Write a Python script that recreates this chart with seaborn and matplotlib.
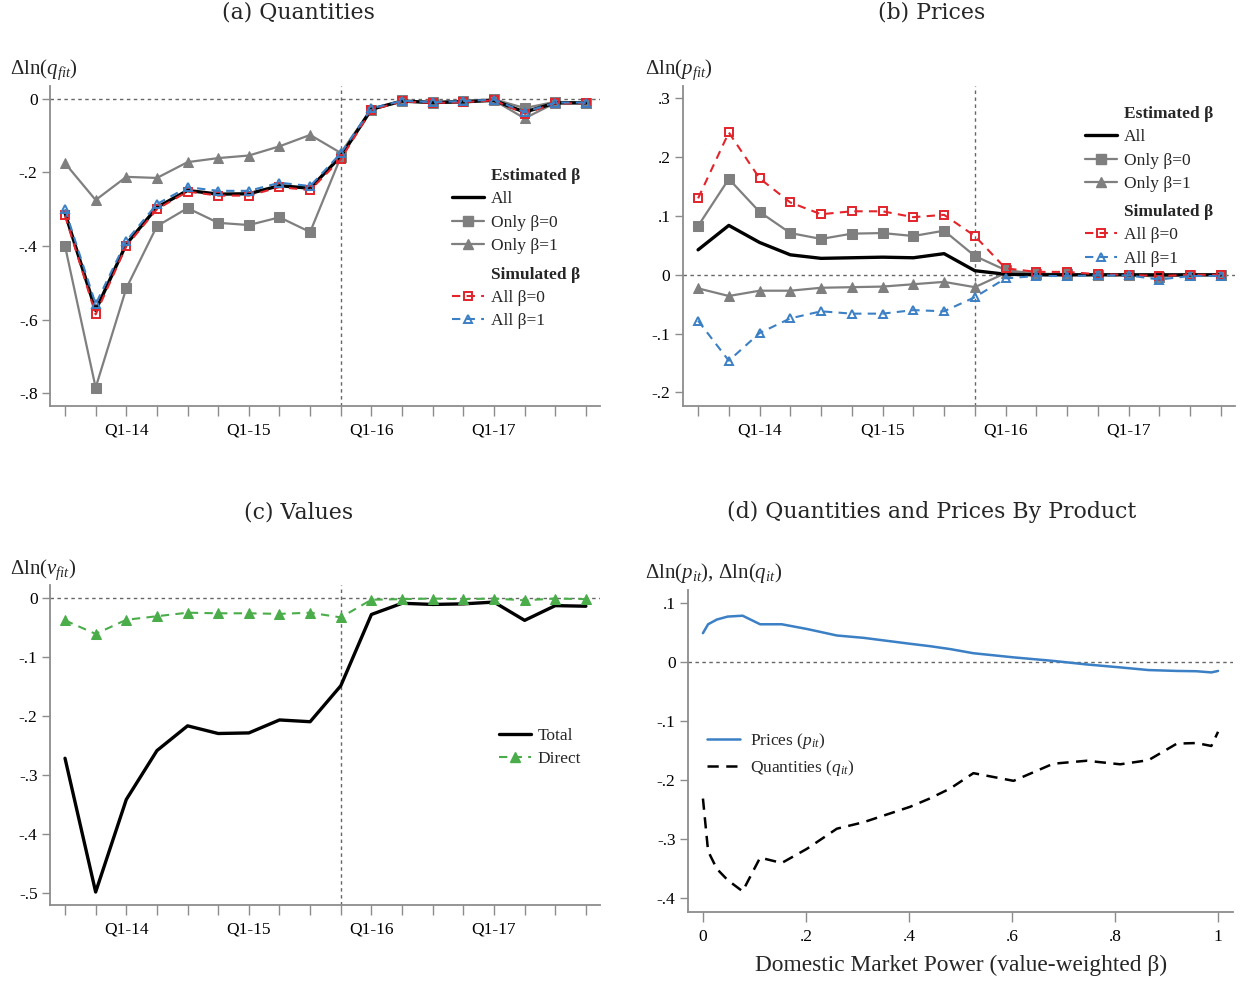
import numpy as np
import pandas as pd
import matplotlib
matplotlib.use("Agg")
import matplotlib.pyplot as plt
import seaborn as sns
from matplotlib.lines import Line2D

# ---------------- data ----------------
quarters = list(range(1, 19))
quarter_ticklabels = {3: "Q1-14", 7: "Q1-15", 11: "Q1-16", 15: "Q1-17"}
policy_quarter = 10

# (a) quantities
q_all = [-0.310, -0.575, -0.395, -0.295, -0.249, -0.259, -0.258, -0.236, -0.243, -0.156,
         -0.028, -0.006, -0.010, -0.008, -0.004, -0.036, -0.011, -0.011]
q_only0 = [-0.400, -0.785, -0.515, -0.346, -0.297, -0.337, -0.343, -0.322, -0.362, -0.158,
           -0.030, -0.004, -0.009, -0.005, -0.001, -0.025, -0.008, -0.010]
q_only1 = [-0.175, -0.275, -0.212, -0.215, -0.172, -0.161, -0.154, -0.129, -0.098, -0.147,
           -0.027, -0.007, -0.010, -0.006, -0.004, -0.053, -0.011, -0.011]
q_sim0 = [-0.317, -0.586, -0.400, -0.300, -0.252, -0.263, -0.263, -0.240, -0.248, -0.164,
          -0.030, -0.007, -0.011, -0.009, -0.004, -0.040, -0.012, -0.012]
q_sim1 = [-0.300, -0.558, -0.386, -0.286, -0.240, -0.250, -0.250, -0.228, -0.237, -0.148,
          -0.026, -0.005, -0.009, -0.006, -0.002, -0.036, -0.010, -0.010]

# (b) prices
p_all = [0.0425, 0.084, 0.055, 0.034, 0.028, 0.029, 0.030, 0.029, 0.036, 0.007,
         0.001, 0.000, 0.000, 0.000, 0.000, 0.000, 0.000, 0.000]
p_only0 = [0.083, 0.163, 0.107, 0.071, 0.061, 0.070, 0.071, 0.066, 0.075, 0.032,
           0.008, 0.002, 0.001, 0.000, 0.000, -0.003, 0.000, 0.000]
p_only1 = [-0.023, -0.036, -0.027, -0.027, -0.022, -0.021, -0.020, -0.016, -0.012, -0.021,
           0.003, 0.001, 0.000, 0.000, 0.000, -0.003, 0.000, -0.001]
p_sim0 = [0.130, 0.242, 0.164, 0.123, 0.103, 0.108, 0.108, 0.098, 0.102, 0.066,
          0.011, 0.005, 0.005, 0.001, 0.000, -0.002, 0.000, 0.000]
p_sim1 = [-0.078, -0.146, -0.099, -0.074, -0.062, -0.066, -0.066, -0.060, -0.062, -0.038,
          -0.006, -0.002, -0.002, -0.001, -0.001, -0.008, -0.002, -0.002]

# (c) values
v_total = [-0.272, -0.499, -0.342, -0.259, -0.217, -0.230, -0.229, -0.207, -0.210, -0.149,
           -0.028, -0.009, -0.011, -0.010, -0.007, -0.038, -0.013, -0.014]
v_direct = [-0.038, -0.061, -0.037, -0.031, -0.025, -0.026, -0.026, -0.027, -0.025, -0.033,
            -0.003, -0.002, -0.001, -0.002, -0.001, -0.004, -0.001, -0.002]

# (d) by product
beta_grid = [0.0, 0.01, 0.027, 0.048, 0.077, 0.111, 0.153, 0.202, 0.26, 0.312, 0.402, 0.44,
             0.48, 0.525, 0.603, 0.68, 0.745, 0.81, 0.865, 0.92, 0.958, 0.987, 1.0]
price_by_beta = [0.049, 0.064, 0.072, 0.077, 0.0785, 0.064, 0.064, 0.056, 0.045, 0.041, 0.031,
                 0.027, 0.022, 0.015, 0.008, 0.002, -0.004, -0.009, -0.0135, -0.015, -0.0155,
                 -0.0175, -0.015]
quantity_by_beta = [-0.231, -0.320, -0.350, -0.369, -0.388, -0.331, -0.340, -0.316, -0.282,
                    -0.271, -0.245, -0.231, -0.214, -0.188, -0.201, -0.172, -0.167, -0.173,
                    -0.166, -0.138, -0.137, -0.142, -0.118]

# ---------------- style ----------------
sns.set_theme(style="ticks")
plt.rcParams["font.family"] = ["Liberation Serif", "DejaVu Serif"]
plt.rcParams["mathtext.fontset"] = "custom"
plt.rcParams["mathtext.rm"] = "Liberation Serif"
plt.rcParams["mathtext.it"] = "Liberation Serif:italic"
plt.rcParams["mathtext.bf"] = "Liberation Serif:bold"

FS = 12.5
GRAY = "#7f7f7f"
AXC = "#8c8c8c"
RED = "#e3242b"
BLUE = "#3b7fc4"
GREEN = "#4aad4a"

fig = plt.figure(figsize=(12.41, 9.84), dpi=100)
W, H = 1241.0, 984.0


def add_ax(l, r, t, b):
    return fig.add_axes([l / W, 1 - b / H, (r - l) / W, (b - t) / H])


ax_a = add_ax(50, 600, 86, 406)
ax_b = add_ax(683, 1235, 86, 406)
ax_c = add_ax(50, 600, 585, 905)
ax_d = add_ax(688, 1233, 590, 912)


def stata_fmt(v):
    v = float(np.round(v, 6))
    if v == 0:
        return "0"
    s = f"{v:g}"
    return s.replace("0.", ".")


def style_axis(ax, yticks, ylim):
    for s in ["top", "right"]:
        ax.spines[s].set_visible(False)
    for s in ["left", "bottom"]:
        ax.spines[s].set_color(AXC)
        ax.spines[s].set_linewidth(1.3)
    ax.set_ylim(*ylim)
    ax.set_yticks(yticks)
    ax.set_yticklabels([stata_fmt(v) for v in yticks])
    ax.tick_params(axis="both", colors=AXC, labelcolor="black", labelsize=FS, width=1.0)
    ax.tick_params(axis="y", length=6, pad=3)
    ax.tick_params(axis="x", length=7, pad=5)
    ax.axhline(0, color="#666666", lw=1.0, ls=(0, (2.5, 2.5)), zorder=1)
    ax.set_xlabel("")
    ax.set_ylabel("")
    ax.grid(False)


def quarter_axis(ax):
    ax.set_xlim(0.51, 18.46)
    ax.set_xticks(quarters)
    ax.set_xticklabels([quarter_ticklabels.get(q, "") for q in quarters])
    ax.axvline(policy_quarter, color="#666666", lw=1.0, ls=(0, (2.5, 2.5)), zorder=1)


def line(ax, y, x=quarters, **kw):
    sns.lineplot(x=x, y=y, ax=ax, sort=False, **kw)


header = Line2D([], [], linestyle="none")
leg_kw = dict(frameon=False, fontsize=FS, borderpad=0, handlelength=1.85,
              handletextpad=0.4, labelspacing=0.41, borderaxespad=0, loc="upper left")

h_all = Line2D([], [], color="black", lw=2.4)
h_only0 = Line2D([], [], color=GRAY, lw=1.6, marker="s", ms=7, mec=GRAY, mfc=GRAY)
h_only1 = Line2D([], [], color=GRAY, lw=1.6, marker="^", ms=7.5, mec=GRAY, mfc=GRAY)
h_sim0 = Line2D([], [], color=RED, lw=1.5, ls=(0, (4, 3)), marker="s", ms=5.5, mec=RED,
                mfc="none", mew=1.4)
h_sim1 = Line2D([], [], color=BLUE, lw=1.5, ls=(0, (4, 3)), marker="^", ms=6, mec=BLUE,
                mfc="none", mew=1.4)


def draw_five(ax, all_, only0, only1, sim0, sim1):
    line(ax, only1, color=GRAY, lw=1.6, marker="^", markersize=7.5, markeredgecolor=GRAY,
         markerfacecolor=GRAY, zorder=3)
    line(ax, only0, color=GRAY, lw=1.6, marker="s", markersize=7, markeredgecolor=GRAY,
         markerfacecolor=GRAY, zorder=3)
    line(ax, all_, color="black", lw=2.4, zorder=4)
    line(ax, sim0, color=RED, lw=1.5, linestyle=(0, (4, 3)), marker="s", markersize=5.5,
         markeredgecolor=RED, markerfacecolor="none", markeredgewidth=1.4, zorder=5)
    line(ax, sim1, color=BLUE, lw=1.5, linestyle=(0, (4, 3)), marker="^", markersize=6,
         markeredgecolor=BLUE, markerfacecolor="none", markeredgewidth=1.4, zorder=6)


def two_legends(ax, x0, y1, y2):
    l1 = ax.legend([header, h_all, h_only0, h_only1],
                   ["Estimated β", "All", "Only β=0", "Only β=1"],
                   bbox_to_anchor=(x0, y1), **leg_kw)
    l1.get_texts()[0].set_fontweight("bold")
    ax.add_artist(l1)
    l2 = ax.legend([header, h_sim0, h_sim1],
                   ["Simulated β", "All β=0", "All β=1"],
                   bbox_to_anchor=(x0, y2), **leg_kw)
    l2.get_texts()[0].set_fontweight("bold")


# (a)
draw_five(ax_a, q_all, q_only0, q_only1, q_sim0, q_sim1)
style_axis(ax_a, [0, -0.2, -0.4, -0.6, -0.8], (-0.835, 0.035))
quarter_axis(ax_a)
two_legends(ax_a, 0.731, 0.744, 0.435)

# (b)
draw_five(ax_b, p_all, p_only0, p_only1, p_sim0, p_sim1)
style_axis(ax_b, [0.3, 0.2, 0.1, 0, -0.1, -0.2], (-0.223, 0.321))
quarter_axis(ax_b)
two_legends(ax_b, 0.728, 0.9375, 0.6315)

# (c)
line(ax_c, v_total, color="black", lw=2.4, zorder=4)
line(ax_c, v_direct, color=GREEN, lw=1.5, linestyle=(0, (4, 3)), marker="^", markersize=7.5,
     markeredgecolor=GREEN, markerfacecolor=GREEN, zorder=5)
style_axis(ax_c, [0, -0.1, -0.2, -0.3, -0.4, -0.5], (-0.521, 0.022))
quarter_axis(ax_c)
h_total = Line2D([], [], color="black", lw=2.4)
h_direct = Line2D([], [], color=GREEN, lw=1.5, ls=(0, (4, 3)), marker="^", ms=7.5,
                  mec=GREEN, mfc=GREEN)
ax_c.legend([h_total, h_direct], ["Total", "Direct"], bbox_to_anchor=(0.816, 0.5535), **leg_kw)

# (d)
line(ax_d, price_by_beta, x=beta_grid, color=BLUE, lw=1.8, zorder=4)
line(ax_d, quantity_by_beta, x=beta_grid, color="black", lw=1.8,
     linestyle=(0, (4.5, 3)), zorder=4)
style_axis(ax_d, [0.1, 0, -0.1, -0.2, -0.3, -0.4], (-0.423, 0.122))
ax_d.set_xlim(-0.029, 1.029)
xt = [0, 0.2, 0.4, 0.6, 0.8, 1.0]
ax_d.set_xticks(xt)
ax_d.set_xticklabels([stata_fmt(v) for v in xt])
h_p = Line2D([], [], color=BLUE, lw=1.8)
h_q = Line2D([], [], color="black", lw=1.8, ls=(0, (4.5, 3)))
ax_d.legend([h_p, h_q], [r"Prices ($p_{it}$)", r"Quantities ($q_{it}$)"],
            bbox_to_anchor=(0.035, 0.562),
            **dict(leg_kw, handlelength=1.9, handletextpad=0.57, labelspacing=0.4))

# titles & axis titles
TFS = 15.8
fig.text(298 / W, 1 - 13 / H, "(a) Quantities", ha="center", va="center",
         fontsize=TFS, family="DejaVu Serif")
fig.text(932 / W, 1 - 13 / H, "(b) Prices", ha="center", va="center",
         fontsize=TFS, family="DejaVu Serif")
fig.text(299 / W, 1 - 512 / H, "(c) Values", ha="center", va="center",
         fontsize=TFS, family="DejaVu Serif")
fig.text(932 / W, 1 - 512 / H, "(d) Quantities and Prices By Product", ha="center",
         va="center", fontsize=TFS, family="DejaVu Serif")

YFS = 15
fig.text(10 / W, 1 - 70 / H, r"$\Delta\mathrm{ln}(q_{fit})$", ha="left", va="center", fontsize=YFS)
fig.text(645 / W, 1 - 70 / H, r"$\Delta\mathrm{ln}(p_{fit})$", ha="left", va="center", fontsize=YFS)
fig.text(10 / W, 1 - 570 / H, r"$\Delta\mathrm{ln}(v_{fit})$", ha="left", va="center", fontsize=YFS)
fig.text(645 / W, 1 - 573 / H, r"$\Delta\mathrm{ln}(p_{it}),\,\Delta\mathrm{ln}(q_{it})$",
         ha="left", va="center", fontsize=YFS)
fig.text(961 / W, 1 - 965 / H, "Domestic Market Power (value-weighted β)", ha="center",
         va="center", fontsize=16.8)

fig.savefig("out.png", dpi=100)
